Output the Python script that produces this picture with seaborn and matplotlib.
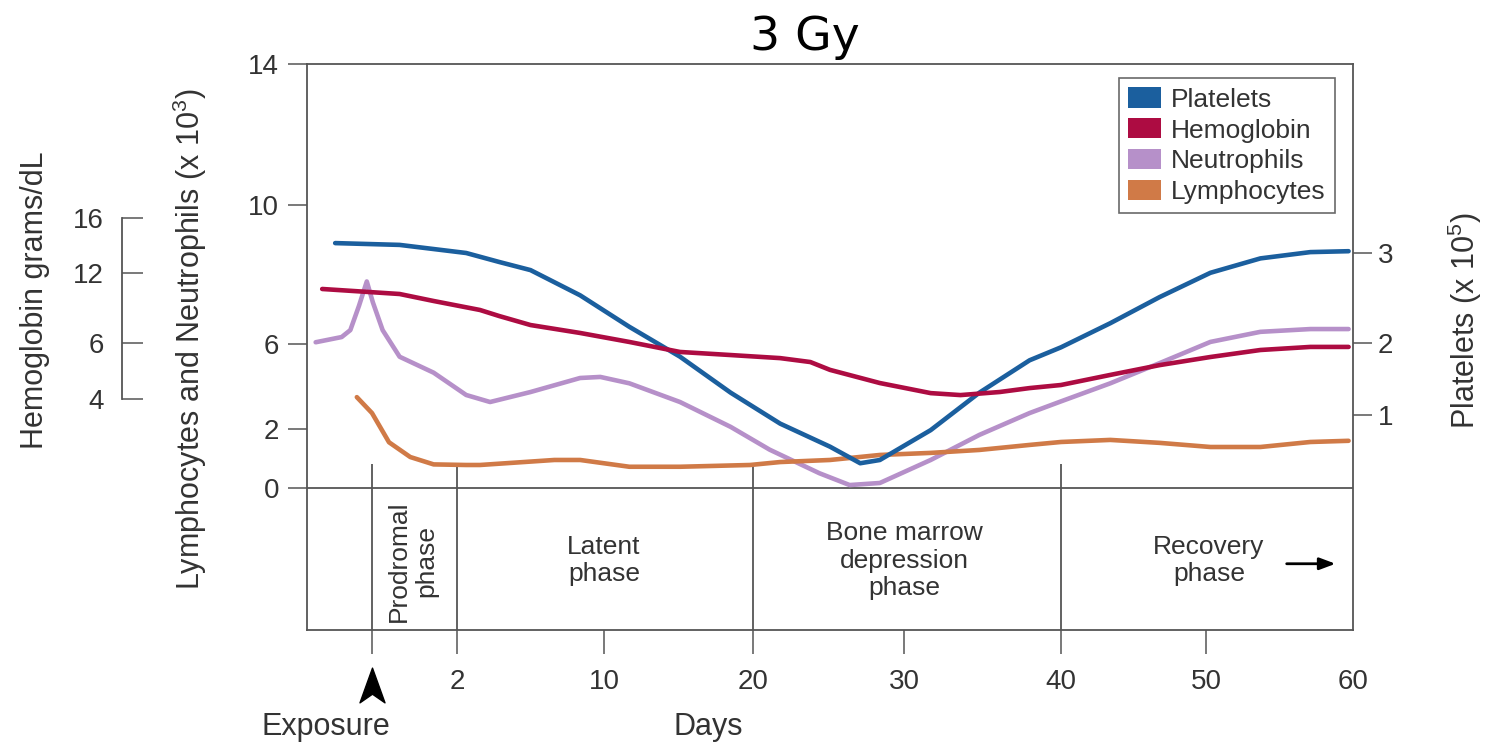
import numpy as np
import matplotlib
matplotlib.use("Agg")
import matplotlib.pyplot as plt
from matplotlib.patches import Patch
from matplotlib.path import Path
import seaborn as sns

# values (x = days after exposure)
neut_days = [-1.3, -0.7, -0.5, -0.3, -0.12, 0.02, 0.25, 0.65, 1.45, 2.5, 3.8, 6.0, 8.7, 9.8,
             11.7, 15.1, 18.5, 21.1, 24.4, 26.4, 28.4, 31.7, 34.8, 38.0, 40.0, 43.4, 46.8,
             50.3, 53.7, 57.1, 59.7]
neut_vals = [6.05, 6.2, 6.4, 7.1, 7.8, 7.2, 6.4, 5.4, 4.65, 3.6, 3.27, 3.74, 4.4, 4.45,
             4.15, 3.27, 2.1, 1.3, 0.5, 0.1, 0.17, 0.95, 1.8, 2.75, 3.3, 4.15, 5.1,
             6.06, 6.35, 6.43, 6.43]

lymph_days = [-0.35, 0.0, 0.4, 0.9, 1.45, 2.5, 3.25, 7.3, 8.7, 11.7, 15.1, 19.8, 21.8, 25.1,
              28.4, 31.7, 34.8, 38.0, 40.0, 43.4, 46.8, 50.3, 53.7, 57.1, 59.7]
lymph_vals = [3.5, 2.75, 1.55, 1.05, 0.8, 0.78, 0.78, 0.95, 0.95, 0.72, 0.72, 0.78, 0.88, 0.95,
              1.12, 1.19, 1.29, 1.46, 1.56, 1.63, 1.53, 1.39, 1.39, 1.56, 1.6]

plt_days = [-0.85, 0.65, 2.5, 4.3, 6.0, 8.7, 11.7, 15.1, 18.5, 21.8, 25.1, 27.1, 28.4, 31.7,
            34.8, 38.0, 40.0, 43.4, 46.8, 50.3, 53.7, 57.1, 59.7]
plt_vals = [3.11, 3.09, 3.0, 2.9, 2.81, 2.53, 2.18, 1.81, 1.31, 0.88, 0.56, 0.33, 0.375, 0.79,
            1.31, 1.76, 1.94, 2.22, 2.51, 2.78, 2.94, 3.01, 3.02]

hgb_days = [-1.15, 0.65, 1.45, 3.25, 4.3, 6.0, 8.7, 11.7, 15.1, 18.5, 21.8, 23.8, 25.1, 28.4,
            31.7, 33.6, 36.1, 38.0, 40.0, 43.4, 46.8, 50.3, 53.7, 57.1, 59.7]
hgb_vals = [10.63, 10.2, 9.6, 8.83, 8.31, 7.54, 6.86, 6.09, 5.68, 5.57, 5.46, 5.32, 5.04, 4.57,
            4.21, 4.14, 4.25, 4.39, 4.5, 4.86, 5.21, 5.5, 5.75, 5.86, 5.86]

series_names = ["Platelets", "Hemoglobin", "Neutrophils", "Lymphocytes"]
series_colors = ["#1b5f9e", "#ad0c42", "#b690c9", "#d07a47"]

day_ticks = [0, 2, 10, 20, 30, 40, 50, 60]
day_labels = ["", "2", "10", "20", "30", "40", "50", "60"]
left_ticks = [0, 2, 6, 10, 14]
plt_ticks = [1, 2, 3]
hgb_ticks = [4, 6, 12, 16]

phase_bounds = [0, 2, 20, 40]
phase_texts = ["Prodromal\nphase", "Latent\nphase", "Bone marrow\ndepression\nphase", "Recovery\nphase"]
phase_centers = [0.96, 10, 30, 50.2]

W, H = 1499, 743


def piecewise(vals, px, flip=True):
    vals = np.asarray(vals, float)
    pos = H - np.asarray(px, float) if flip else np.asarray(px, float)

    def fwd(v):
        return np.interp(v, vals, pos)

    def inv(p):
        return np.interp(p, pos, vals)
    return fwd, inv


# the original uses uneven axis spacing, so map each axis through anchor points
x_fn = piecewise([-1.5, 0, 2, 10, 20, 30, 40, 50, 60],
                 [307, 372, 457, 604, 753, 904, 1061, 1206, 1353], flip=False)
left_anchor = [-4.78, 0, 2, 6, 10, 14]
left_fn = piecewise(left_anchor, [630, 488, 429, 344, 205, 64])
plt_anchor = [-1.99, 0, 1, 2, 3, 5.1]
plt_fn = piecewise(plt_anchor, [630, 487, 415, 343, 253, 64])
hgb_anchor = [-4.25, 4, 6, 12, 16, 27.2]
hgb_fn = piecewise(hgb_anchor, [630, 399, 343, 273, 218, 64])

sns.set_theme(style="ticks")
plt.rcParams["font.family"] = ["Liberation Sans", "DejaVu Sans"]
plt.rcParams["mathtext.fontset"] = "custom"
plt.rcParams["mathtext.rm"] = "Liberation Sans"
plt.rcParams["mathtext.default"] = "regular"

ink = "#333333"
edge = "#555555"

fig = plt.figure(figsize=(W / 100, H / 100), dpi=100)
ax = fig.add_axes([307 / W, 1 - 630 / H, (1353 - 307) / W, (630 - 64) / H])
ax.set_xscale("function", functions=x_fn)
ax.set_yscale("function", functions=left_fn)
ax.set_xlim(-1.5, 60)
ax.set_ylim(left_anchor[0], left_anchor[-1])

sns.lineplot(x=neut_days, y=neut_vals, ax=ax, color=series_colors[2], lw=3.3)
sns.lineplot(x=lymph_days, y=lymph_vals, ax=ax, color=series_colors[3], lw=3.3)

ax.axhline(0, color=edge, lw=1.3, zorder=1)
ax.vlines(phase_bounds, 0.8, left_anchor[0], color=edge, lw=1.3, zorder=1)
for xc, txt in zip(phase_centers, phase_texts):
    rot = 90 if txt.startswith("Prodromal") else 0
    ax.text(xc, -2.45, txt, ha="center", va="center", fontsize=19, color=ink,
            rotation=rot, linespacing=1.18)
ax.annotate("", xy=(59.0, -2.55), xytext=(55.3, -2.55),
            arrowprops=dict(arrowstyle="-|>,head_length=0.8,head_width=0.3",
                            color="black", lw=2))

for s in ax.spines.values():
    s.set_color(edge)
    s.set_linewidth(1.3)
ax.set_xticks(day_ticks)
ax.set_xticklabels(day_labels)
ax.set_yticks(left_ticks)
ax.tick_params(axis="x", length=17, width=1.1, color=edge, pad=11, labelsize=20, labelcolor=ink)
ax.tick_params(axis="y", length=14, width=1.1, color=edge, pad=6, labelsize=20, labelcolor=ink)
ax.xaxis.get_major_ticks()[-1].tick1line.set_visible(False)
ax.set_xlabel("")
ax.set_ylabel("")

# exposure marker below day 0
arrow = Path([(0, 1), (0.72, -1), (0, -0.5), (-0.72, -1), (0, 1)],
             [Path.MOVETO, Path.LINETO, Path.LINETO, Path.LINETO, Path.CLOSEPOLY])
ax.plot([0], [-0.097], marker=arrow, markersize=25, color="black", ls="",
        transform=ax.get_xaxis_transform(), clip_on=False)

# platelets on the right
ax2 = ax.twinx()
ax2.set_yscale("function", functions=plt_fn)
ax2.set_ylim(plt_anchor[0], plt_anchor[-1])
sns.lineplot(x=plt_days, y=plt_vals, ax=ax2, color=series_colors[0], lw=3.3)
for s in ax2.spines.values():
    s.set_visible(False)
ax2.set_yticks(plt_ticks)
ax2.tick_params(axis="y", length=14, width=1.1, color=edge, pad=4, labelsize=20, labelcolor=ink)
ax2.set_ylabel("")

# hemoglobin bracket axis on the far left
ax3 = ax.twinx()
ax3.set_yscale("function", functions=hgb_fn)
ax3.set_ylim(hgb_anchor[0], hgb_anchor[-1])
sns.lineplot(x=hgb_days, y=hgb_vals, ax=ax3, color=series_colors[1], lw=3.3)
for k, s in ax3.spines.items():
    s.set_visible(k == "left")
ax3.yaxis.tick_left()
ax3.spines["left"].set_position(("axes", (122 - 307) / (1353 - 307)))
ax3.spines["left"].set_bounds(hgb_ticks[0], hgb_ticks[-1])
ax3.spines["left"].set_color(edge)
ax3.spines["left"].set_linewidth(1.3)
ax3.set_yticks(hgb_ticks)
ax3.tick_params(axis="y", direction="in", length=15, width=1.1, color=edge, pad=13,
                labelsize=20, labelcolor=ink)
ax3.set_ylabel("")

handles = [Patch(facecolor=c, edgecolor="none", label=n) for n, c in zip(series_names, series_colors)]
leg = ax3.legend(handles=handles, loc="upper right", bbox_to_anchor=(0.983, 0.975),
                 fontsize=19, frameon=True, fancybox=False, borderaxespad=0,
                 handlelength=1.25, handleheight=0.8, handletextpad=0.4,
                 labelspacing=0.25, borderpad=0.35)
leg.get_frame().set_edgecolor("#444444")
leg.get_frame().set_linewidth(1.2)
for t in leg.get_texts():
    t.set_color(ink)


def fx(p):
    return p / W


def fy(p):
    return 1 - p / H


fig.text(fx(805), fy(50), "3 Gy", ha="center", va="baseline", fontsize=34,
         family="DejaVu Sans", color="black")
fig.text(fx(35), fy(300), "Hemoglobin grams/dL", rotation=90, ha="center", va="center",
         fontsize=22, color=ink)
fig.text(fx(190), fy(339), r"Lymphocytes and Neutrophils (x 10$^{3}$)", rotation=90,
         ha="center", va="center", fontsize=22, color=ink)
fig.text(fx(1465), fy(321), r"Platelets (x 10$^{5}$)", rotation=90, ha="center",
         va="center", fontsize=22, color=ink)
fig.text(fx(326), fy(727), "Exposure", ha="center", va="center", fontsize=22, color=ink)
fig.text(fx(708), fy(727), "Days", ha="center", va="center", fontsize=22, color=ink)

fig.savefig("out.png", dpi=100)
